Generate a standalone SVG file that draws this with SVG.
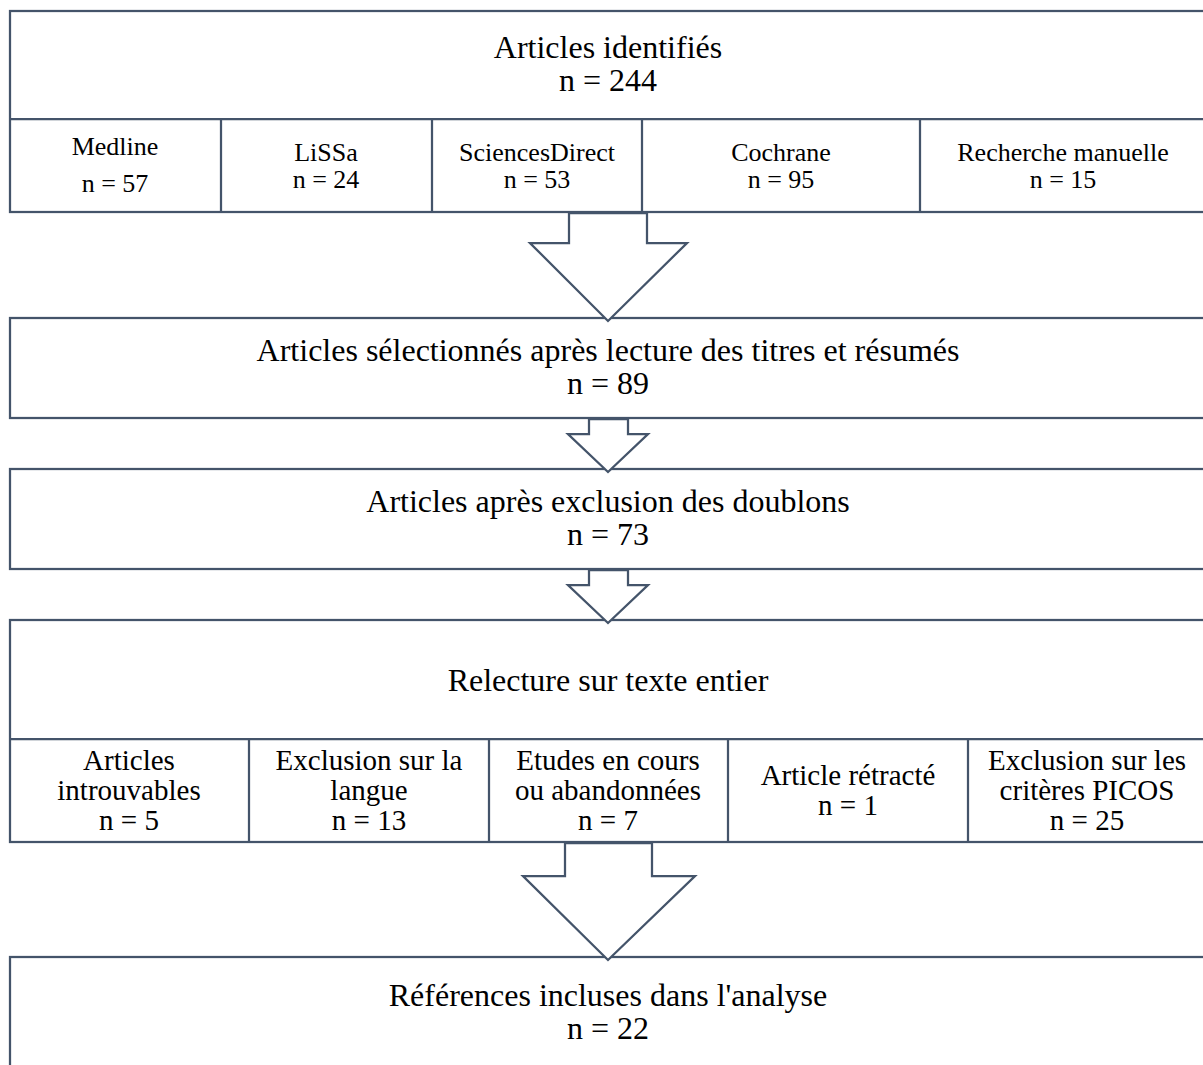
<svg xmlns="http://www.w3.org/2000/svg" width="1203" height="1065" viewBox="0 0 1203 1065">
<style>
.box{fill:#fff;stroke:#44546a;stroke-width:2.25}
.ln{fill:none;stroke:#44546a;stroke-width:2.25}
.arr{fill:#fff;stroke:#44546a;stroke-width:2.25;stroke-linejoin:miter}
text{font-family:"Liberation Serif","Times New Roman",serif;fill:#000;text-anchor:middle}
.m{font-size:32px}
.s{font-size:26px}
.b{font-size:29px}
</style>
<rect width="1203" height="1065" fill="#fff"/>
<g id="box-identifies">
<rect class="box" x="10" y="11" width="1196" height="201"/>
<line class="ln" x1="10" y1="119" x2="1206" y2="119"/>
<line class="ln" x1="221" y1="119" x2="221" y2="212"/>
<line class="ln" x1="432" y1="119" x2="432" y2="212"/>
<line class="ln" x1="642" y1="119" x2="642" y2="212"/>
<line class="ln" x1="920" y1="119" x2="920" y2="212"/>
<text class="m" x="608" y="58">Articles identifiés</text>
<text class="m" x="608" y="91">n = 244</text>
</g>
<g id="src-medline"><text class="s" x="115" y="155">Medline</text><text class="s" x="115" y="192">n = 57</text></g>
<g id="src-lissa"><text class="s" x="326" y="161">LiSSa</text><text class="s" x="326" y="188">n = 24</text></g>
<g id="src-sciencesdirect"><text class="s" x="537" y="161">SciencesDirect</text><text class="s" x="537" y="188">n = 53</text></g>
<g id="src-cochrane"><text class="s" x="781" y="161">Cochrane</text><text class="s" x="781" y="188">n = 95</text></g>
<g id="src-manuelle"><text class="s" x="1063" y="161">Recherche manuelle</text><text class="s" x="1063" y="188">n = 15</text></g>
<g id="box-selectionnes">
<rect class="box" x="10" y="318" width="1196" height="100"/>
<text class="m" x="608" y="361">Articles sélectionnés après lecture des titres et résumés</text>
<text class="m" x="608" y="394">n = 89</text>
</g>
<g id="box-doublons">
<rect class="box" x="10" y="469" width="1196" height="100"/>
<text class="m" x="608" y="512">Articles après exclusion des doublons</text>
<text class="m" x="608" y="545">n = 73</text>
</g>
<g id="box-relecture">
<rect class="box" x="10" y="620" width="1196" height="222"/>
<line class="ln" x1="10" y1="739" x2="1206" y2="739"/>
<line class="ln" x1="249" y1="739" x2="249" y2="842"/>
<line class="ln" x1="489" y1="739" x2="489" y2="842"/>
<line class="ln" x1="728" y1="739" x2="728" y2="842"/>
<line class="ln" x1="968" y1="739" x2="968" y2="842"/>
<text class="m" x="608" y="691">Relecture sur texte entier</text>
</g>
<g id="excl-introuvables"><text class="b" x="129" y="770">Articles</text><text class="b" x="129" y="800">introuvables</text><text class="b" x="129" y="830">n = 5</text></g>
<g id="excl-langue"><text class="b" x="369" y="770">Exclusion sur la</text><text class="b" x="369" y="800">langue</text><text class="b" x="369" y="830">n = 13</text></g>
<g id="excl-cours"><text class="b" x="608" y="770">Etudes en cours</text><text class="b" x="608" y="800">ou abandonnées</text><text class="b" x="608" y="830">n = 7</text></g>
<g id="excl-retracte"><text class="b" x="848" y="785">Article rétracté</text><text class="b" x="848" y="815">n = 1</text></g>
<g id="excl-picos"><text class="b" x="1087" y="770">Exclusion sur les</text><text class="b" x="1087" y="800">critères PICOS</text><text class="b" x="1087" y="830">n = 25</text></g>
<g id="box-incluses">
<rect class="box" x="10" y="957" width="1196" height="120"/>
<text class="m" x="608" y="1006">Références incluses dans l'analyse</text>
<text class="m" x="608" y="1039">n = 22</text>
</g>
<g id="connectors">
<polygon class="arr" points="569,213 569,243 530,243 608,321 687,243 647,243 647,213"/>
<polygon class="arr" points="589,419 589,434 568,434 608,472 648,434 628,434 628,419"/>
<polygon class="arr" points="589,570 589,585 568,585 608,623 648,585 628,585 628,570"/>
<polygon class="arr" points="565,843 565,876 523,876 608,960 695,876 652,876 652,843"/>
</g>
</svg>
